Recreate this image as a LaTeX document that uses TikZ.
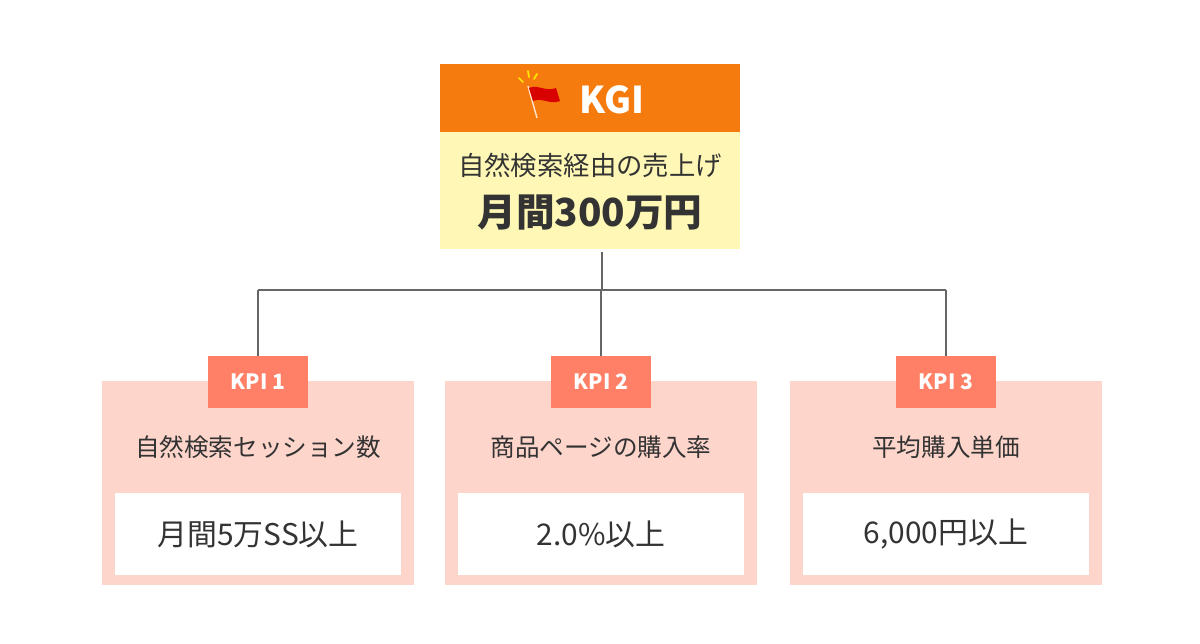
\documentclass[tikz,border=0pt]{standalone}
\usepackage{fontspec}
\setmainfont{Noto Sans CJK JP}
\usetikzlibrary{positioning}
\definecolor{kgihead}{RGB}{245,123,14}
\definecolor{kgibody}{RGB}{254,247,181}
\definecolor{kpipink}{RGB}{253,213,203}
\definecolor{kpitag}{RGB}{255,128,102}
\definecolor{linegray}{RGB}{102,102,102}
\definecolor{textgray}{RGB}{51,51,51}
\tikzset{
  kpibox/.style={fill=kpipink, draw=none, minimum width=6.26cm, minimum height=4.08cm, inner sep=0pt},
  kpitag/.style={fill=kpitag, text=white, font=\fontsize{12}{14}\selectfont\bfseries, minimum width=2cm, minimum height=1.04cm, inner sep=0pt},
  valbox/.style={fill=white, minimum width=5.72cm, minimum height=1.64cm, inner sep=0pt, text=textgray, font=\fontsize{17}{20}\selectfont},
  subtext/.style={text=textgray, font=\fontsize{14}{17}\selectfont},
  conn/.style={linegray, line width=1.6pt}
}
\begin{document}
\begin{tikzpicture}[x=0.02cm, y=-0.02cm]
  \useasboundingbox[fill=white] (0,0) rectangle (1200,643);
  % KGI
  \fill[kgibody] (440,132) rectangle (740,249);
  \fill[kgihead] (440,64) rectangle (740,132);
  \node[text=white, font=\fontsize{21}{24}\selectfont\bfseries] (kgi) at (612,100) {KGI};
  % flag
  \draw[white!80!kgihead, line width=0.8pt] (528,86) -- (537,118);
  \fill[red!85!black] (529,88) .. controls (538,84) and (545,92) .. (556,88) -- (560,101) .. controls (549,105) and (542,97) .. (533,101) -- cycle;
  \foreach \a/\b/\c/\d in {519/78/523/82, 528/71/529/77, 537/74/534/79}
    \draw[yellow!90!orange, line width=1pt, line cap=round] (\a,\b) -- (\c,\d);
  \node[subtext, font=\fontsize{15}{18}\selectfont] (kgisub) at (590,165) {自然検索経由の売上げ};
  \node[text=textgray, font=\fontsize{22}{26}\selectfont\bfseries] (kgival) at (590,213) {月間300万円};
  \coordinate (top) at (602,252);
  \coordinate (mid) at (602,290);
  % KPI boxes
  \foreach \i/\x/\sub/\val in {1/258/自然検索セッション数/月間5万SS以上, 2/601/商品ページの購入率/2.0\%以上, 3/946/平均購入単価/{6,000円以上}} {
    \node[kpibox] (box\i) at (\x,483) {};
    \node[valbox] (val\i) at (\x,534) {\val};
    \node[subtext] (sub\i) at (\x,447) {\sub};
    \coordinate (bar\i) at (\x,290);
    \node[kpitag] (tag\i) at (\x,382) {KPI \i};
  }
  \draw[conn] (top) -- (mid);
  \draw[conn] (bar1) -- (bar3);
  \foreach \i in {1,2,3}
    \draw[conn] (bar\i) -- (tag\i.north);
\end{tikzpicture}
\end{document}
